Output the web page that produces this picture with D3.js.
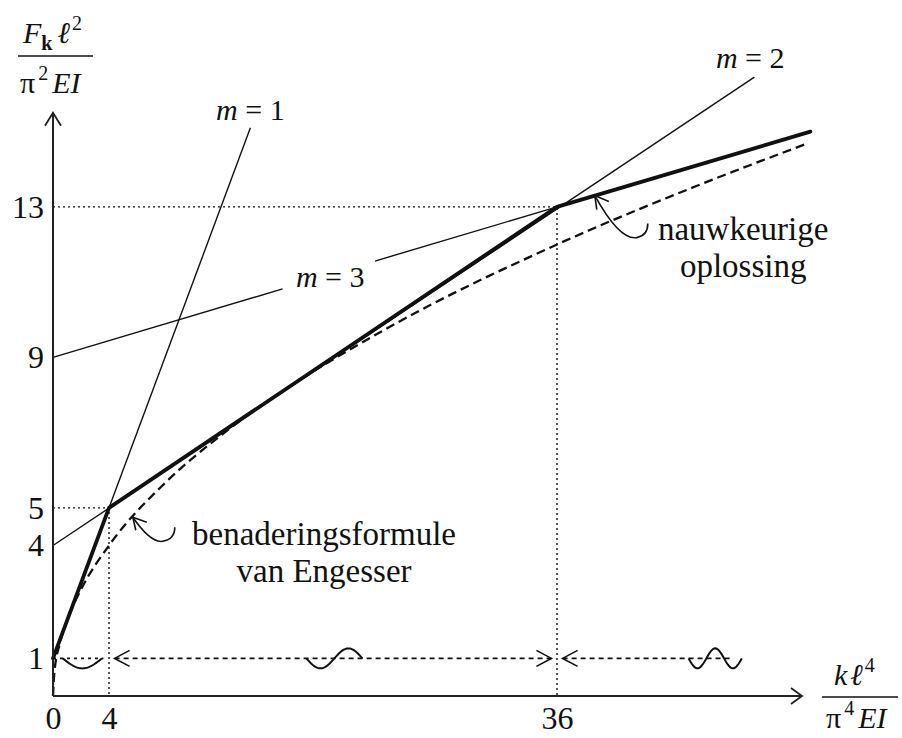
<!DOCTYPE html>
<meta charset="utf-8">
<script src="https://d3js.org/d3.v7.min.js"></script>
<style>
  body { margin: 0; background: #fff; }
  text { font-family: "Liberation Serif", "Times New Roman", serif; fill: #111; }
</style>

<div id="my_dataviz"></div>
<script>
  // tick labels
  var kTicks = [0, 4, 36];
  var fTicks = [1, 4, 5, 9, 13];

  // thin lines for m = 1, 2, 3 (m = 3 is broken around its label)
  var mode1 = [[0, 1], [14.1, 15.1]];
  var mode2 = [[0, 4], [50.1, 16.45]];
  var mode3a = [[0, 9], [16.4, 10.82]];
  var mode3b = [[23, 11.56], [36, 13]];

  // thick line: exact solution
  var exact = [[0, 1], [4, 5], [36, 13], [54.1, 15.0]];

  // dashed line: Engesser approximation
  var engesser = [[0, 0], [0.1, 0.63], [0.5, 1.41], [1, 2], [2, 2.83], [4, 4], [8, 5.66],
                  [12, 6.93], [16, 8], [24, 9.8], [36, 12], [46, 13.56], [53.7, 14.66]];

  // dotted guide lines
  var guides = [[[0, 5], [4, 5], [4, 0]], [[0, 13], [36, 13], [36, 0]]];

  // ranges of buckling shapes along the bottom
  var ranges = [
    {from: 0, to: 3.6, left: false, right: false, dash: "3,4", m: 1, w0: 0.7, w1: 3.5},
    {from: 4.4, to: 35.6, left: true, right: true, dash: "5,4", m: 2, w0: 18.1, w1: 22.1},
    {from: 36.4, to: 48.6, left: true, right: false, dash: "5,4", m: 3, w0: 45.4, w1: 49.2}
  ];

  var modeLabels = [
    {m: "1", k: 14.1, f: 15.32},
    {m: "2", k: 49.8, f: 16.7},
    {m: "3", k: 19.8, f: 10.88}
  ];

  // set the dimensions and margins of the graph
  var margin = {top: 94, right: 93, bottom: 42, left: 53},
      width = 902 - margin.left - margin.right,
      height = 738 - margin.top - margin.bottom;

  var root = d3.select("#my_dataviz")
    .append("svg")
      .attr("width", 902)
      .attr("height", 738);

  var svg = root.append("g")
      .attr("transform", "translate(" + margin.left + "," + margin.top + ")");

  var x = d3.scaleLinear().domain([0, 54]).range([0, width]);
  var y = d3.scaleLinear().domain([0, 16]).range([height, 0]);

  var line = d3.line().x(function(d) { return x(d[0]); }).y(function(d) { return y(d[1]); });
  var ink = "#111";

  // tick labels
  svg.append("g")
    .attr("transform", "translate(0," + height + ")")
    .call(d3.axisBottom(x).tickValues(kTicks).tickSize(0).tickPadding(10))
    .attr("font-family", "Liberation Serif")
    .attr("font-size", 32)
    .call(function(g) { g.select(".domain").remove(); });

  svg.append("g")
    .call(d3.axisLeft(y).tickValues(fTicks).tickSize(0).tickPadding(9))
    .attr("font-family", "Liberation Serif")
    .attr("font-size", 32)
    .call(function(g) { g.select(".domain").remove(); });

  // dotted guides
  guides.forEach(function(gd) {
    svg.append("path").datum(gd)
      .attr("d", line)
      .attr("fill", "none")
      .attr("stroke", ink)
      .attr("stroke-width", 1.4)
      .attr("stroke-dasharray", "2,3");
  });

  // thin lines
  [mode1, mode2, mode3a, mode3b].forEach(function(d) {
    svg.append("path").datum(d)
      .attr("d", line)
      .attr("fill", "none")
      .attr("stroke", ink)
      .attr("stroke-width", 1.4);
  });

  // Engesser
  svg.append("path").datum(engesser)
    .attr("d", line.curve(d3.curveMonotoneX))
    .attr("fill", "none")
    .attr("stroke", ink)
    .attr("stroke-width", 2.3)
    .attr("stroke-dasharray", "9,5");
  line.curve(d3.curveLinear);

  // exact solution
  svg.append("path").datum(exact)
    .attr("d", line)
    .attr("fill", "none")
    .attr("stroke", ink)
    .attr("stroke-width", 3.8)
    .attr("stroke-linejoin", "round")
    .attr("stroke-linecap", "round");

  // axes with open arrowheads
  var axisColor = "#222";
  svg.append("line")
    .attr("x1", x(0)).attr("y1", y(0)).attr("x2", x(53.5)).attr("y2", y(0))
    .attr("stroke", axisColor).attr("stroke-width", 2);
  svg.append("path")
    .attr("d", "M" + (x(53.5) - 11) + "," + (y(0) - 8) + "L" + x(53.5) + "," + y(0) + "L" + (x(53.5) - 11) + "," + (y(0) + 8))
    .attr("fill", "none").attr("stroke", axisColor).attr("stroke-width", 1.8);
  svg.append("line")
    .attr("x1", x(0)).attr("y1", y(0)).attr("x2", x(0)).attr("y2", y(15.5))
    .attr("stroke", axisColor).attr("stroke-width", 2);
  svg.append("path")
    .attr("d", "M" + (x(0) - 8) + "," + (y(15.5) + 13) + "L" + x(0) + "," + y(15.5) + "L" + (x(0) + 8) + "," + (y(15.5) + 13))
    .attr("fill", "none").attr("stroke", axisColor).attr("stroke-width", 1.8);

  // ranges of m along the bottom with buckling shapes
  ranges.forEach(function(r) {
    var yy = y(1);
    svg.append("line")
      .attr("x1", x(r.from)).attr("x2", x(r.to)).attr("y1", yy).attr("y2", yy)
      .attr("stroke", ink).attr("stroke-width", 1.6)
      .attr("stroke-dasharray", r.dash);
    if (r.left) {
      svg.append("path")
        .attr("d", "M" + (x(r.from) + 15) + "," + (yy - 8) + "L" + x(r.from) + "," + yy + "L" + (x(r.from) + 15) + "," + (yy + 8))
        .attr("fill", "none").attr("stroke", ink).attr("stroke-width", 1.6);
    }
    if (r.right) {
      svg.append("path")
        .attr("d", "M" + (x(r.to) - 15) + "," + (yy - 8) + "L" + x(r.to) + "," + yy + "L" + (x(r.to) - 15) + "," + (yy + 8))
        .attr("fill", "none").attr("stroke", ink).attr("stroke-width", 1.6);
    }
    // little sketch of the buckled shape with m half waves
    var x0 = x(r.w0), x1 = x(r.w1);
    var pts = d3.range(0, 1.0001, 0.02).map(function(t) {
      return [x0 + t * (x1 - x0), yy + 10 * Math.sin(r.m * Math.PI * t)];
    });
    svg.append("path")
      .attr("d", d3.line()(pts))
      .attr("fill", "none").attr("stroke", ink).attr("stroke-width", 2);
  });

  // m labels
  modeLabels.forEach(function(l) {
    var t = svg.append("text")
      .attr("x", x(l.k)).attr("y", y(l.f))
      .attr("text-anchor", "middle")
      .attr("font-size", 30);
    t.append("tspan").attr("font-style", "italic").text("m");
    t.append("tspan").text(" = " + l.m);
  });

  // annotations with hooked arrows
  function hook(k, f, path, arms) {
    var g = svg.append("g").attr("transform", "translate(" + x(k) + "," + y(f) + ")");
    g.append("path").attr("d", path)
      .attr("fill", "none").attr("stroke", ink).attr("stroke-width", 1.6);
    g.append("path").attr("d", "M" + arms[0] + "L0,0L" + arms[1])
      .attr("fill", "none").attr("stroke", ink).attr("stroke-width", 1.6);
  }
  hook(5.7, 4.75, "M0,0Q18,26 30,24Q42,22 42,10", ["3,13", "14,5"]);
  hook(38.7, 13.3, "M0,0Q25,45 42,42Q53,40 53,28", ["2,14", "14,6"]);

  function note(k, f, lines) {
    lines.forEach(function(s, i) {
      svg.append("text")
        .attr("x", x(k)).attr("y", y(f) + i * 37)
        .attr("text-anchor", "middle")
        .attr("font-size", 33)
        .text(s);
    });
  }
  note(19.36, 4.02, ["benaderingsformule", "van Engesser"]);
  note(49.3, 12.13, ["nauwkeurige", "oplossing"]);

  // axis titles (fractions)
  var yt = root.append("text").attr("x", 23).attr("y", 43).attr("font-size", 30);
  yt.append("tspan").attr("font-style", "italic").text("F");
  yt.append("tspan").attr("font-size", 20).attr("font-weight", "bold").attr("dy", 7).text("k");
  yt.append("tspan").attr("font-style", "italic").attr("dx", 5).attr("dy", -7).text("ℓ");
  yt.append("tspan").attr("font-size", 20).attr("dx", 2).attr("dy", -13).text("2");
  root.append("line").attr("x1", 18).attr("x2", 93).attr("y1", 56).attr("y2", 56)
    .attr("stroke", ink).attr("stroke-width", 1.5);
  var yb = root.append("text").attr("x", 20).attr("y", 93).attr("font-size", 30);
  yb.append("tspan").text("π");
  yb.append("tspan").attr("font-size", 20).attr("dx", 3).attr("dy", -13).text("2");
  yb.append("tspan").attr("font-style", "italic").attr("dx", 4).attr("dy", 13).text("EI");

  var xt = root.append("text").attr("x", 834).attr("y", 685).attr("font-size", 30);
  xt.append("tspan").attr("font-style", "italic").text("k");
  xt.append("tspan").attr("font-style", "italic").attr("dx", 3).text("ℓ");
  xt.append("tspan").attr("font-size", 20).attr("dx", 2).attr("dy", -13).text("4");
  root.append("line").attr("x1", 822).attr("x2", 898).attr("y1", 697).attr("y2", 697)
    .attr("stroke", ink).attr("stroke-width", 1.5);
  var xb = root.append("text").attr("x", 826).attr("y", 728).attr("font-size", 30);
  xb.append("tspan").text("π");
  xb.append("tspan").attr("font-size", 20).attr("dx", 3).attr("dy", -13).text("4");
  xb.append("tspan").attr("font-style", "italic").attr("dx", 4).attr("dy", 13).text("EI");
</script>
